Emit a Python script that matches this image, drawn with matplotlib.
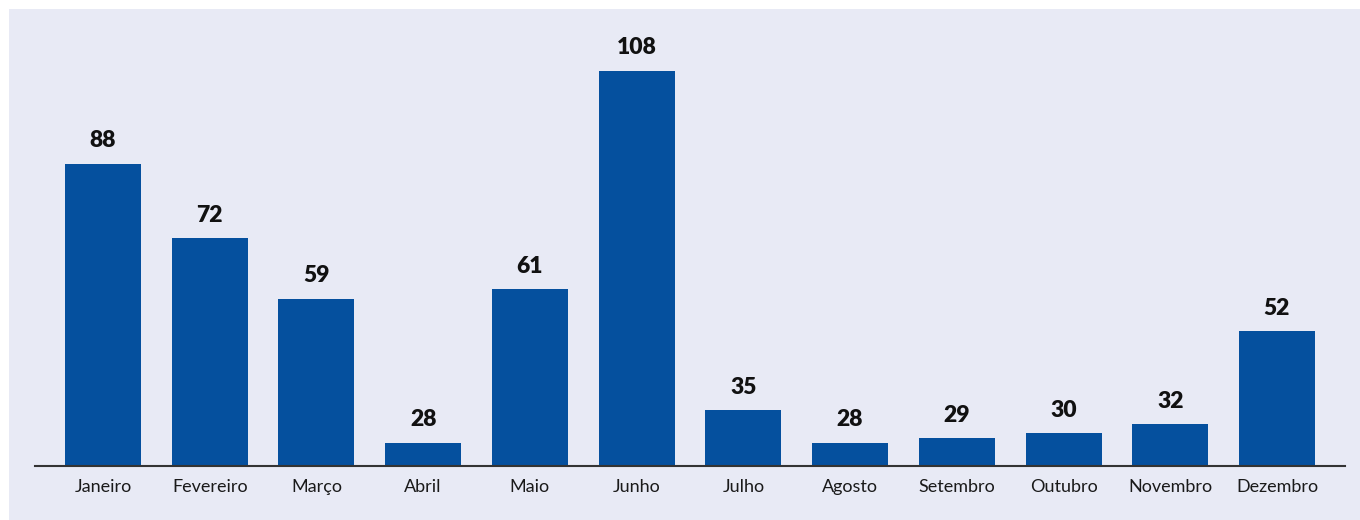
import matplotlib
matplotlib.use("Agg")
import matplotlib.pyplot as plt
from matplotlib.patches import Rectangle

months = ["Janeiro", "Fevereiro", "Março", "Abril", "Maio", "Junho", "Julho",
          "Agosto", "Setembro", "Outubro", "Novembro", "Dezembro"]
values = [88, 72, 59, 28, 61, 108, 35, 28, 29, 30, 32, 52]

W, H = 1360, 520
bg = "#e8eaf5"
bar_color = "#05509e"

plt.rcParams['font.family'] = ['Lato', 'DejaVu Sans']

fig = plt.figure(figsize=(W / 100, H / 100), dpi=100, facecolor="white")
fig.patches.append(Rectangle((9 / W, 0), 1 - 9 / W, 1 - 9 / H, transform=fig.transFigure,
                             facecolor=bg, edgecolor="none", linewidth=0, zorder=-10))

ax = fig.add_axes([35 / W, (H - 466) / H, (1345 - 35) / W, (466 - 20) / H])
ax.set_zorder(5)
ax.patch.set_visible(False)

x = list(range(len(months)))
ax.bar(x, values, width=0.712, color=bar_color, zorder=2)
ax.set_xlim(-0.637, len(months) - 1 + 0.637)
ax.set_ylim(23, 23 + 446 / 4.65)

for xi, v in zip(x, values):
    ax.annotate(str(v), (xi, v), xytext=(0, 9), textcoords="offset points",
                ha="center", va="bottom", fontsize=16.5, fontweight="heavy", color="#111111")

ax.set_xticks(x)
ax.set_xticklabels(months, fontsize=13, color="#1a1a1a")
ax.tick_params(axis="x", length=0, pad=9.5)
ax.set_yticks([])
for s in ["top", "left", "right"]:
    ax.spines[s].set_visible(False)
ax.spines["bottom"].set_color("#333333")
ax.spines["bottom"].set_linewidth(1.5)
ax.spines["bottom"].set_zorder(3)

fig.savefig("out.png", dpi=100, facecolor="white")
